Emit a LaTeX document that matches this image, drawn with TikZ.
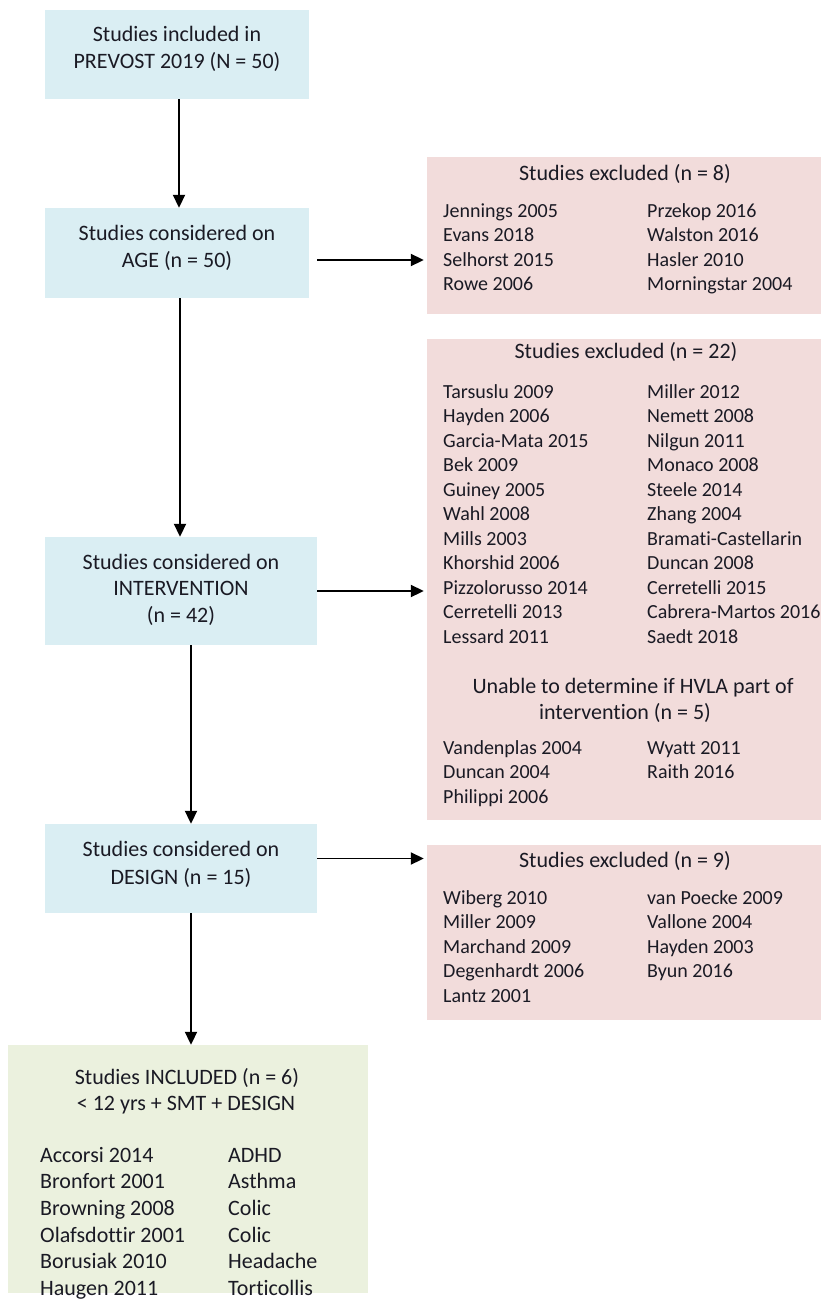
\documentclass[tikz,border=0pt]{standalone}
\usepackage{fontspec}
\setmainfont{Carlito}[Ligatures=NoCommon]
\usetikzlibrary{arrows.meta}
\definecolor{bluefill}{HTML}{DAEEF3}
\definecolor{pinkfill}{HTML}{F2DCDB}
\definecolor{greenfill}{HTML}{EBF1DE}
\definecolor{txt}{HTML}{1A1A24}
\begin{document}
\begin{tikzpicture}[x=1pt,y=-1pt,
  box/.style={rectangle, draw=none, inner sep=0pt, anchor=center},
  bluebox/.style={box, fill=bluefill},
  pinkbox/.style={box, fill=pinkfill},
  greenbox/.style={box, fill=greenfill},
  ttl/.style={anchor=base, inner sep=0pt, text=txt, font=\fontsize{22}{27}\selectfont},
  lst/.style={anchor=base west, inner sep=0pt, text=txt, font=\fontsize{20}{24}\selectfont},
  glst/.style={anchor=base west, inner sep=0pt, text=txt, font=\fontsize{22}{27}\selectfont},
  arr/.style={line width=1.9pt, black, -{Triangle[width=12pt,length=13pt]}}
]
\useasboundingbox (0,0) rectangle (821,1303);

% boxes
\node[bluebox, minimum width=264pt, minimum height=89pt] (b1) at (177,54.5) {};
\node[bluebox, minimum width=264pt, minimum height=90pt] (b2) at (177,253) {};
\node[bluebox, minimum width=272pt, minimum height=108pt] (b3) at (181,591) {};
\node[bluebox, minimum width=272pt, minimum height=89pt] (b4) at (181,868.5) {};
\node[pinkbox, minimum width=394pt, minimum height=157pt] (e1) at (624,235.5) {};
\node[pinkbox, minimum width=394pt, minimum height=481pt] (e2) at (624,579.5) {};
\node[pinkbox, minimum width=394pt, minimum height=175pt] (e3) at (624,932.5) {};
\node[greenbox, minimum width=360pt, minimum height=248pt] (g) at (188,1169) {};

% blue box texts
\node[ttl] (b1t1) at (177,42) {Studies included in};
\node[ttl] (b1t2) at (177,69) {PREVOST 2019 (N = 50)};
\node[ttl] (b2t1) at (177,240) {Studies considered on};
\node[ttl] (b2t2) at (177,267) {AGE (n = 50)};
\node[ttl] (b3t1) at (181,569) {Studies considered on};
\node[ttl] (b3t2) at (181,595) {INTERVENTION};
\node[ttl] (b3t3) at (181,622) {(n = 42)};
\node[ttl] (b4t1) at (181,856) {Studies considered on};
\node[ttl] (b4t2) at (181,884) {DESIGN (n = 15)};

% excluded 1
\node[ttl] (e1t) at (625,180) {Studies excluded (n = 8)};
\foreach \t [count=\i] in {Jennings 2005, Evans 2018, Selhorst 2015, Rowe 2006}
  \node[lst] (e1a\i) at (443,{217+24.5*(\i-1)}) {\t};
\foreach \t [count=\i] in {Przekop 2016, Walston 2016, Hasler 2010, Morningstar 2004}
  \node[lst] (e1b\i) at (647,{217+24.5*(\i-1)}) {\t};

% excluded 2
\node[ttl] (e2t) at (626,358) {Studies excluded (n = 22)};
\foreach \t [count=\i] in {Tarsuslu 2009, Hayden 2006, Garcia-Mata 2015, Bek 2009, Guiney 2005, Wahl 2008, Mills 2003, Khorshid 2006, Pizzolorusso 2014, Cerretelli 2013, Lessard 2011}
  \node[lst] (e2a\i) at (443,{398+24.5*(\i-1)}) {\t};
\foreach \t [count=\i] in {Miller 2012, Nemett 2008, Nilgun 2011, Monaco 2008, Steele 2014, Zhang 2004, Bramati-Castellarin, Duncan 2008, Cerretelli 2015, Cabrera-Martos 2016, Saedt 2018}
  \node[lst] (e2b\i) at (647,{398+24.5*(\i-1)}) {\t};
\node[ttl] (e2u1) at (633,693) {Unable to determine if HVLA part of};
\node[ttl] (e2u2) at (625,719) {intervention (n = 5)};
\foreach \t [count=\i] in {Vandenplas 2004, Duncan 2004, Philippi 2006}
  \node[lst] (e2c\i) at (443,{754+24.5*(\i-1)}) {\t};
\foreach \t [count=\i] in {Wyatt 2011, Raith 2016}
  \node[lst] (e2d\i) at (647,{754+24.5*(\i-1)}) {\t};

% excluded 3
\node[ttl] (e3t) at (625,867) {Studies excluded (n = 9)};
\foreach \t [count=\i] in {Wiberg 2010, Miller 2009, Marchand 2009, Degenhardt 2006, Lantz 2001}
  \node[lst] (e3a\i) at (443,{904+24.5*(\i-1)}) {\t};
\foreach \t [count=\i] in {van Poecke 2009, Vallone 2004, Hayden 2003, Byun 2016}
  \node[lst] (e3b\i) at (647,{904+24.5*(\i-1)}) {\t};

% included
\node[ttl] (gt1) at (187,1084) {Studies INCLUDED (n = 6)};
\node[ttl] (gt2) at (186,1110) {< 12 yrs + SMT + DESIGN};
\foreach \t [count=\i] in {Accorsi 2014, Bronfort 2001, Browning 2008, Olafsdottir 2001, Borusiak 2010, Haugen 2011}
  \node[glst] (ga\i) at (40,{1162+26.7*(\i-1)}) {\t};
\foreach \t [count=\i] in {ADHD, Asthma, Colic, Colic, Headache, Torticollis}
  \node[glst] (gb\i) at (228,{1162+26.7*(\i-1)}) {\t};

% connectors
\draw[arr] ([xshift=2pt]b1.south) -- ([xshift=2pt]b2.north);
\draw[arr] ([xshift=3pt]b2.south) -- ([xshift=3pt]b2.south |- b3.north);
\draw[arr, shorten <=8pt, shorten >=3pt] ([yshift=-7pt]b2.east) -- ([yshift=-7pt]b2.east -| e1.west);
\draw[arr, shorten >=3pt] (b3.east) -- (b3.east -| e2.west);
\draw[arr] ([xshift=10pt]b3.south) -- ([xshift=10pt]b3.south |- b4.north);
\draw[arr, shorten >=3pt] ([yshift=10pt]b4.east) -- ([yshift=10pt]b4.east -| e3.west);
\draw[arr] ([xshift=10pt]b4.south) -- ([xshift=10pt]b4.south |- g.north);
\end{tikzpicture}
\end{document}
